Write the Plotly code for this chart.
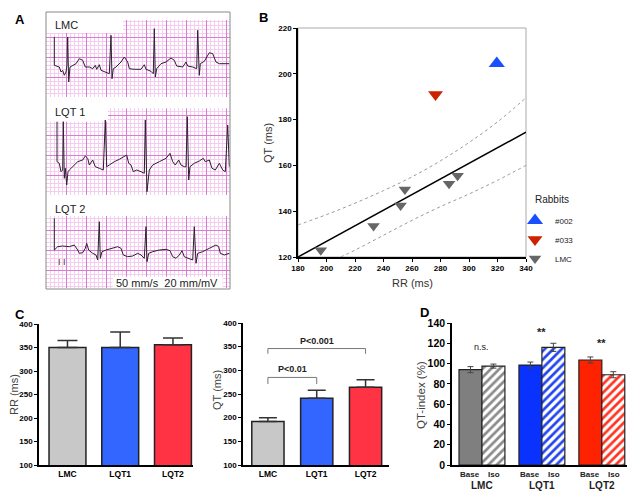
import plotly.graph_objects as go

# page pixels: the figure div sits 8 px in from the page corner (body margin)
PAGE_OFF = 8
W, H = 639 - PAGE_OFF, 498 - PAGE_OFF

# ---- panel A: ECG strips (t: strip px, v: amplitude units)
lmc_t = [8.3, 8.3, 13.3, 15, 16.7, 18.3, 20, 21, 21.7, 22.7, 24, 26.7, 30, 33.3, 36.7, 39.3,
         43.3, 46.7, 49.3, 50.7, 53.3, 55, 60, 63.3, 65, 66, 67.3, 70, 75, 78.3, 81.7, 83.3,
         88.3, 95, 98.3, 100, 105, 107.3, 108.3, 109.3, 110.7, 115, 120, 125, 128.3, 130.7,
         136.7, 140, 141.7, 146.7, 150.7, 151.7, 153.3, 154.3, 158.3, 163.3, 166.7, 170,
         173.3, 183.3]
lmc_v = [60, 31.7, 30, 25, 26.7, 21.7, 25, 31.7, 60, 15, 30, 31.7, 33.3, 38.3, 36.7, 30,
         30, 28.3, 31.7, 27.7, 32.3, 26.7, 24.3, 23.3, 61.7, 18.3, 28.3, 30, 35, 40, 35, 28.3,
         27.7, 27.7, 32.3, 27.7, 25.7, 23.3, 68.3, 20, 28.3, 33.3, 35, 39, 36.7, 31,
         30, 35, 31, 30, 28.3, 66.7, 21.7, 33.3, 35.7, 44.3, 43.3, 35,
         33.3, 33.3]

lqt1_t = [11, 11, 13.3, 15, 16.7, 17.3, 18.3, 19.3, 20.7, 22, 23.3, 26.7, 31.7, 36.7, 39.3,
          41.7, 43.3, 46.7, 49.3, 53.3, 57.3, 59.3, 60.7, 63.3, 68.3, 73.3, 78.3, 80.7, 82.7,
          85, 87.3, 90.7, 95, 98.3, 99.3, 101, 103.3, 106.7, 113.3, 120, 124, 126.7, 129.3,
          132.7, 135, 138.3, 140, 141.3, 142.7, 144, 148.3, 153.3, 157.3, 159.3, 163.3, 166,
          169.3, 173.3, 176.7, 179.3, 181.7, 183.3]
lqt1_v = [73.3, 33.3, 31.7, 23.3, 25, 73.3, 16.7, 26.7, 10, 23.3, 25, 28.3, 33.3, 35, 39,
          36.7, 30, 35, 28.3, 26.7, 25, 75, 28.3, 30, 33.3, 35.7, 38.3, 40, 31.7,
          30, 23.3, 25, 23.3, 21.7, 75, 3.3, 25, 30, 33.3, 36.7, 41.7, 33.3, 30,
          35, 30, 28.3, 28.3, 78.3, 15, 28.3, 31.7, 34, 36.7, 33.3, 35, 26.7,
          25, 31.7, 25, 23.3, 70, 28.3]

lqt2_t = [8.3, 8.3, 11.7, 16.7, 23.3, 28.3, 31.7, 33.3, 36.7, 39.3, 40.7, 42.7, 46.7, 50,
          51.7, 53.3, 54.3, 56, 60, 66.7, 71.7, 75, 77.3, 81.7, 86.7, 91.7, 95, 98.3, 100,
          101, 102.7, 106.7, 113.3, 120, 124, 126.7, 130, 133.3, 136, 138.3, 143.3, 146.7,
          148.3, 150, 151.7, 156.7, 163.3, 170, 172.7, 174.3, 178.3, 183.3]
lqt2_v = [71.7, 40, 43.3, 44, 43.3, 45, 40, 36.7, 37.3, 41.7, 46.7, 40, 36.7, 35,
          30, 68.3, 31.7, 38.3, 40, 41.7, 43.3, 41.7, 35, 33.3, 34, 36.7, 35, 31.7, 63.3,
          28.3, 36.7, 38.3, 40, 40.7, 39.3, 33.3, 31.7, 35, 39.3, 33.3, 31.7, 30,
          63.3, 26.7, 36.7, 38.3, 41.7, 45, 43.3, 36.7, 35, 36.7]

# ---- panel B: QT vs RR
lmc_rr = [196, 233, 252, 255, 286, 292]
lmc_qt = [123, 133.5, 142.5, 149.5, 152, 155.5]
r033_rr, r033_qt = [276.5], [191]
r002_rr, r002_qt = [319.5], [204.5]
fit_rr = [180, 340]
fit_qt = [120, 174.5]
upper_rr = [180, 200, 220, 240, 260, 280, 300, 320, 340]
upper_qt = [134, 138.5, 143.5, 149, 155, 162, 170, 179, 189.5]
lower_rr = [210, 220, 240, 260, 280, 300, 320, 340]
lower_qt = [120, 123, 129.5, 136, 142, 147.5, 153.5, 160]

# ---- panel C: RR and QT per group
groups = ["LMC", "LQT1", "LQT2"]
rr_mean = [350, 350, 356]
rr_err = [15, 33, 14]
qt_mean = [192, 241, 264]
qt_err = [8, 17, 16]

# ---- panel D: QT-index, Base vs Iso
base_idx = [94, 98.5, 103.5]
base_err = [3, 3, 3]
iso_idx = [97.5, 116, 89]
iso_err = [2, 4, 3]

c_cols = ["#c8c8c8", "#3366ff", "#ff3344"]
d_cols = ["#7f7f7f", "#0a32ff", "#ff2200"]
d_hatch = ["#8a8a8a", "#2244ee", "#ff3322"]


def xp(px):
    return (px - PAGE_OFF) / W


def yp(py):
    return 1 - (py - PAGE_OFF) / H


FONT = "Liberation Sans, Arial, sans-serif"
bold8 = dict(family=FONT, size=8, color="black", weight="bold")

fig = go.Figure()

# panel A traces
for t, v, ax in [(lmc_t, lmc_v, "5"), (lqt1_t, lqt1_v, "6"), (lqt2_t, lqt2_v, "7")]:
    fig.add_trace(go.Scatter(x=t, y=v, mode="lines", line=dict(color="#2d2030", width=1),
                             xaxis="x" + ax, yaxis="y" + ax, showlegend=False,
                             hoverinfo="skip"))

# panel B traces
fig.add_trace(go.Scatter(x=upper_rr, y=upper_qt, mode="lines", line=dict(color="#999", width=1, dash="dot"),
                         showlegend=False, line_shape="spline"))
fig.add_trace(go.Scatter(x=lower_rr, y=lower_qt, mode="lines", line=dict(color="#999", width=1, dash="dot"),
                         showlegend=False, line_shape="spline"))
fig.add_trace(go.Scatter(x=fit_rr, y=fit_qt, mode="lines", line=dict(color="black", width=1.5),
                         showlegend=False))
fig.add_trace(go.Scatter(x=r002_rr, y=r002_qt, mode="markers", name="#002",
                         marker=dict(symbol="triangle-up", size=14, color="#1a4fff")))
fig.add_trace(go.Scatter(x=r033_rr, y=r033_qt, mode="markers", name="#033",
                         marker=dict(symbol="triangle-down", size=13, color="#cc2200")))
fig.add_trace(go.Scatter(x=lmc_rr, y=lmc_qt, mode="markers", name="LMC",
                         marker=dict(symbol="triangle-down", size=11, color="#666666")))

# panel C bars
fig.add_trace(go.Bar(x=groups, y=rr_mean, width=0.7, xaxis="x2", yaxis="y2", showlegend=False,
                     marker=dict(color=c_cols, line=dict(color="#222", width=1.5)),
                     error_y=dict(type="data", array=rr_err, arrayminus=[0, 0, 0], symmetric=False,
                                  color="#333", thickness=1.5, width=10)))
fig.add_trace(go.Bar(x=groups, y=qt_mean, width=0.66, xaxis="x3", yaxis="y3", showlegend=False,
                     marker=dict(color=c_cols, line=dict(color="#222", width=1.5)),
                     error_y=dict(type="data", array=qt_err, arrayminus=[0, 0, 0], symmetric=False,
                                  color="#333", thickness=1.5, width=9)))

# panel D bars
fig.add_trace(go.Bar(x=groups, y=base_idx, width=0.383, offset=-0.383, xaxis="x4", yaxis="y4",
                     showlegend=False,
                     marker=dict(color=d_cols, line=dict(color="#222", width=1.2)),
                     error_y=dict(type="data", array=base_err, color="#444", thickness=1, width=3)))
fig.add_trace(go.Bar(x=groups, y=iso_idx, width=0.383, offset=0, xaxis="x4", yaxis="y4",
                     showlegend=False,
                     marker=dict(color="white", line=dict(color="#222", width=1.2),
                                 pattern=dict(shape="/", fgcolor=d_hatch, bgcolor="white",
                                              size=6, solidity=0.45)),
                     error_y=dict(type="data", array=iso_err, color="#444", thickness=1, width=3)))

axis_common = dict(showgrid=False, zeroline=False, showline=True, linecolor="black", linewidth=1.5,
                   ticks="outside", ticklen=3, tickwidth=1.2, tickcolor="black", tickfont=bold8,
                   automargin=False)

ecg_axis = dict(showgrid=True, gridcolor="#dd7ad6", gridwidth=1, dtick=20, tick0=0,
                minor=dict(dtick=4, showgrid=True, gridcolor="#f5cdf1", gridwidth=1, ticks=""),
                showticklabels=False, zeroline=False, showline=False, ticks="", fixedrange=True,
                automargin=False)

fig.update_layout(
    template="none",
    width=W, height=H, margin=dict(l=0, r=0, t=0, b=0, pad=0, autoexpand=False),
    paper_bgcolor="white", plot_bgcolor="white",
    font=dict(family=FONT, color="#222"),
    xaxis=dict(axis_common, domain=[xp(298), xp(526)], range=[180, 340], dtick=20, anchor="y"),
    yaxis=dict(axis_common, domain=[yp(257), yp(28)], range=[120, 220], dtick=20, anchor="x"),
    xaxis2=dict(axis_common, domain=[xp(39), xp(193)], range=[-0.54, 2.38], ticks="",
                tickfont=dict(bold8, size=8.5), anchor="y2"),
    yaxis2=dict(axis_common, domain=[yp(465), yp(324)], range=[100, 400], dtick=50, anchor="x2"),
    xaxis3=dict(axis_common, domain=[xp(243), xp(389)], range=[-0.51, 2.48], ticks="",
                tickfont=dict(bold8, size=8.5), anchor="y3"),
    yaxis3=dict(axis_common, domain=[yp(465), yp(323)], range=[100, 400], dtick=50, anchor="x3"),
    xaxis4=dict(axis_common, domain=[xp(452), xp(627)], range=[-0.5, 2.42], ticks="",
                showticklabels=False, anchor="y4"),
    yaxis4=dict(axis_common, domain=[yp(465), yp(323)], range=[0, 140], dtick=20,
                tickfont=dict(bold8, size=10.5), anchor="x4"),
    xaxis5=dict(ecg_axis, domain=[xp(46), xp(230)], range=[0, 184], anchor="y5"),
    yaxis5=dict(ecg_axis, domain=[yp(97), yp(12)], range=[0, 85], anchor="x5"),
    xaxis6=dict(ecg_axis, domain=[xp(46), xp(230)], range=[0, 184], anchor="y6"),
    yaxis6=dict(ecg_axis, domain=[yp(195), yp(100)], range=[0, 95], anchor="x6"),
    xaxis7=dict(ecg_axis, domain=[xp(46), xp(230)], range=[0, 184], anchor="y7"),
    yaxis7=dict(ecg_axis, domain=[yp(288), yp(200)], range=[2, 90], anchor="x7"),
    legend=dict(x=xp(515), y=yp(206), xanchor="left", yanchor="top",
                font=dict(family=FONT, size=8, color="#222"), itemwidth=30,
                bgcolor="rgba(0,0,0,0)", tracegroupgap=2),
)

shapes = [
    # B frame (grey top/right)
    dict(type="rect", xref="paper", yref="paper", x0=xp(298), x1=xp(526), y0=yp(257), y1=yp(28),
         line=dict(color="#aaaaaa", width=1), layer="below"),
    # A outer box
    dict(type="rect", xref="paper", yref="paper", x0=xp(46), x1=xp(230), y0=yp(289), y1=yp(12),
         line=dict(color="#888888", width=1), layer="above"),
    # white label areas over the ECG grid
    dict(type="rect", xref="x5", yref="y5", x0=0, x1=77, y0=64, y1=85, fillcolor="white",
         line=dict(width=0), layer="between"),
    dict(type="rect", xref="x5", yref="y5", x0=77, x1=184, y0=77, y1=85, fillcolor="white",
         line=dict(width=0), layer="between"),
    dict(type="rect", xref="x6", yref="y6", x0=0, x1=62, y0=73.3, y1=95, fillcolor="white",
         line=dict(width=0), layer="between"),
    dict(type="rect", xref="x6", yref="y6", x0=62, x1=184, y0=86.7, y1=95, fillcolor="white",
         line=dict(width=0), layer="between"),
    dict(type="rect", xref="x7", yref="y7", x0=0, x1=184, y0=74, y1=90, fillcolor="white",
         line=dict(width=0), layer="between"),
    dict(type="rect", xref="x7", yref="y7", x0=66.7, x1=176.7, y0=2, y1=13.3, fillcolor="white",
         line=dict(width=0), layer="between"),
]

# significance brackets in QT panel (x in category index, y in ms)
br_small = dict(x0=0, x1=1, top=285, leg=271)
br_big = dict(x0=0, x1=2, top=346, leg=335)
for br in (br_small, br_big):
    shapes.append(dict(type="path", xref="x3", yref="y3",
                       path=f"M {br['x0']},{br['leg']} L {br['x0']},{br['top']} "
                            f"L {br['x1']},{br['top']} L {br['x1']},{br['leg']}",
                       line=dict(color="#777", width=1)))
fig.update_layout(shapes=shapes)

ann = []


def label(text, px, py, size=11, bold=False, color="#222", angle=0, xanchor="center"):
    ann.append(dict(text=text, x=xp(px), y=yp(py), xref="paper", yref="paper", showarrow=False,
                    textangle=angle, xanchor=xanchor, yanchor="middle",
                    font=dict(family=FONT, size=size, color=color,
                              weight="bold" if bold else "normal")))


label("A", 20, 19, 13, True, "black")
label("B", 263, 17, 13, True, "black")
label("C", 20, 314, 13, True, "black")
label("D", 424, 312, 13, True, "black")
label("LMC", 53, 25, 11, xanchor="left")
label("LQT 1", 53, 112, 11, xanchor="left")
label("LQT 2", 53, 209, 11, xanchor="left")
label("I I", 62, 262, 9, color="#4a3a4a")
label("50 mm/s  20 mm/mV", 167, 283, 11)
label("QT (ms)", 268, 143, 11, color="#333", angle=-90)
label("RR (ms)", 412, 283, 11, color="#333")
label("Rabbits", 533, 199, 10, xanchor="left")
label("RR (ms)", 14, 395, 11, color="#444", angle=-90)
label("QT (ms)", 217, 390, 11, color="#444", angle=-90)
label("QT-index (%)", 421, 395, 11.5, color="#444", angle=-90)

# p-value texts
for txt, xc, yv in [("P<0.01", 0.5, 302), ("P<0.001", 1, 363)]:
    ann.append(dict(text=txt, x=xc, y=yv, xref="x3", yref="y3", showarrow=False,
                    font=dict(family=FONT, size=9, color="#222", weight="bold")))

# panel D labels
d_marks = ["n.s.", "**", "**"]
d_mark_y = [116, 131, 120]
for g, m, yv in zip(groups, d_marks, d_mark_y):
    ann.append(dict(text=m, x=g, y=yv, xref="x4", yref="y4", showarrow=False,
                    font=dict(family=FONT, size=9 if m == "n.s." else 11, color="#222",
                              weight="normal" if m == "n.s." else "bold")))
    for txt, sh in [("Base", -12), ("Iso", 12)]:
        ann.append(dict(text=txt, x=g, xshift=sh, y=yp(468), xref="x4", yref="paper",
                        yanchor="top", showarrow=False,
                        font=dict(family=FONT, size=8, color="#222", weight="bold")))
    ann.append(dict(text=g, x=g, y=yp(478), xref="x4", yref="paper", yanchor="top", showarrow=False,
                    font=dict(family=FONT, size=10, color="#222", weight="bold")))

fig.update_layout(annotations=ann)

fig.write_html("out.html")
